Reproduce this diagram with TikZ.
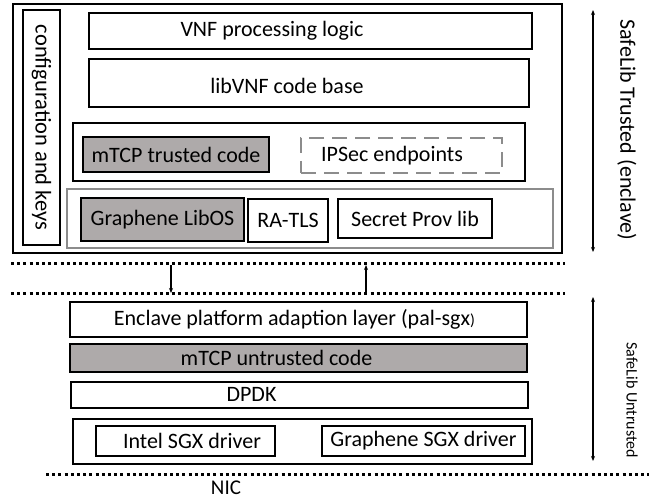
\documentclass[tikz,border=0pt]{standalone}
\usepackage{fontspec}
\setmainfont{Carlito}
\usetikzlibrary{arrows.meta}
\definecolor{boxgray}{RGB}{174,170,170}
\definecolor{edgegray}{RGB}{140,140,140}
\begin{document}
\begin{tikzpicture}[x=1pt,y=-1pt,
  bx/.style={draw=black,line width=1.8pt,inner sep=0pt,minimum width=#1},
  fs/.style={font=\fontsize{22}{24}\selectfont},
  txt/.style={inner sep=0pt,fs},
  dotline/.style={line width=3pt,dash pattern=on 3pt off 3.2pt},
  conn/.style={line width=1.3pt,-{Stealth[length=5pt,width=4pt]}},
  dbl/.style={line width=1.3pt,{Stealth[length=5pt,width=4pt]}-{Stealth[length=5pt,width=4pt]}}
]
\useasboundingbox (0,0) rectangle (649,500);
% trusted part
\node[bx=549pt,minimum height=249pt] (outer) at (287.5,128.5) {};
\node[bx=37pt,minimum height=235pt] (cfg) at (41.5,127.5) {};
\node[txt,rotate=-90,font=\fontsize{22.5}{24}\selectfont] (cfgt) at (cfg.center) {configuration and keys};
\node[bx=443pt,minimum height=36pt] (vnf) at (310.5,31) {};
\node[txt] (vnft) at (272,31) {VNF processing logic};
\node[bx=440pt,minimum height=48pt] (libvnf) at (309,83) {};
\node[txt] (libvnft) at (287,86) {libVNF code base};
\node[bx=452pt,minimum height=58pt] (mtcpc) at (299,152) {};
\node[bx=186pt,minimum height=35pt,fill=boxgray,fs] (mtcpt) at (176,154.5) {mTCP trusted code};
\node[draw=edgegray,line width=2.6pt,dash pattern=on 15pt off 8pt,inner sep=0pt,minimum width=201pt,minimum height=35pt] (ipsec) at (401.5,155.5) {};
\node[txt] (ipsect) at (392,155.5) {IPSec endpoints};
\node[draw=edgegray,line width=1.6pt,inner sep=0pt,minimum width=486pt,minimum height=59pt] (grc) at (310,218.5) {};
\node[bx=163pt,minimum height=43pt,fill=boxgray,fs] (libos) at (162.5,219.5) {Graphene LibOS};
\node[bx=80pt,minimum height=43pt,fs] (ratls) at (288,220.5) {RA-TLS};
\node[bx=154pt,minimum height=39pt,fs] (secret) at (415,218.5) {Secret Prov lib};
% boundary
\coordinate (d1l) at (11,264); \coordinate (d1r) at (565,264);
\coordinate (d2l) at (11,294); \coordinate (d2r) at (565,294);
\draw[dotline] (d1l) -- (d1r);
\draw[dotline] (d2l) -- (d2r);
\coordinate (a1s) at (171,265.5); \coordinate (a1e) at (171,293);
\coordinate (a2s) at (366,292.5); \coordinate (a2e) at (366,265);
\draw[conn] (a1s) -- (a1e);
\draw[conn] (a2s) -- (a2e);
% untrusted part
\node[bx=457pt,minimum height=35pt] (pal) at (298.5,319.5) {};
\node[txt] (palt) at (294.5,319.5) {Enclave platform adaption layer (pal-sgx{\fontsize{16}{18}\selectfont)}};
\node[bx=457pt,minimum height=28pt,line width=2.8pt,fill=boxgray] (mtcpu) at (298.5,358) {};
\node[txt] (mtcput) at (276.5,357.5) {mTCP untrusted code};
\node[bx=457pt,minimum height=26pt] (dpdk) at (299.5,395) {};
\node[txt] (dpdkt) at (251.5,394.5) {DPDK};
\node[bx=459pt,minimum height=45pt] (drvc) at (302.5,441.5) {};
\node[bx=179pt,minimum height=30pt] (intel) at (185.5,441) {};
\node[txt] (intelt) at (192,441) {Intel SGX driver};
\node[bx=203pt,minimum height=30pt,fs] (gsgx) at (423.5,441) {Graphene SGX driver};
\coordinate (d3l) at (46,474); \coordinate (d3r) at (649,474);
\draw[dotline] (d3l) -- (d3r);
\node[txt,font=\fontsize{21}{23}\selectfont] (nic) at (226,488) {NIC};
% side labels
\coordinate (t1) at (593,10); \coordinate (t2) at (593,252);
\draw[dbl] (t1) -- (t2);
\node[txt,rotate=-90] (trl) at (627,130) {SafeLib Trusted (enclave)};
\coordinate (u1) at (593,297); \coordinate (u2) at (593,461);
\draw[dbl] (u1) -- (u2);
\node[txt,rotate=-90,font=\fontsize{16}{18}\selectfont] (utl) at (632,400) {SafeLib Untrusted};
\end{tikzpicture}
\end{document}
